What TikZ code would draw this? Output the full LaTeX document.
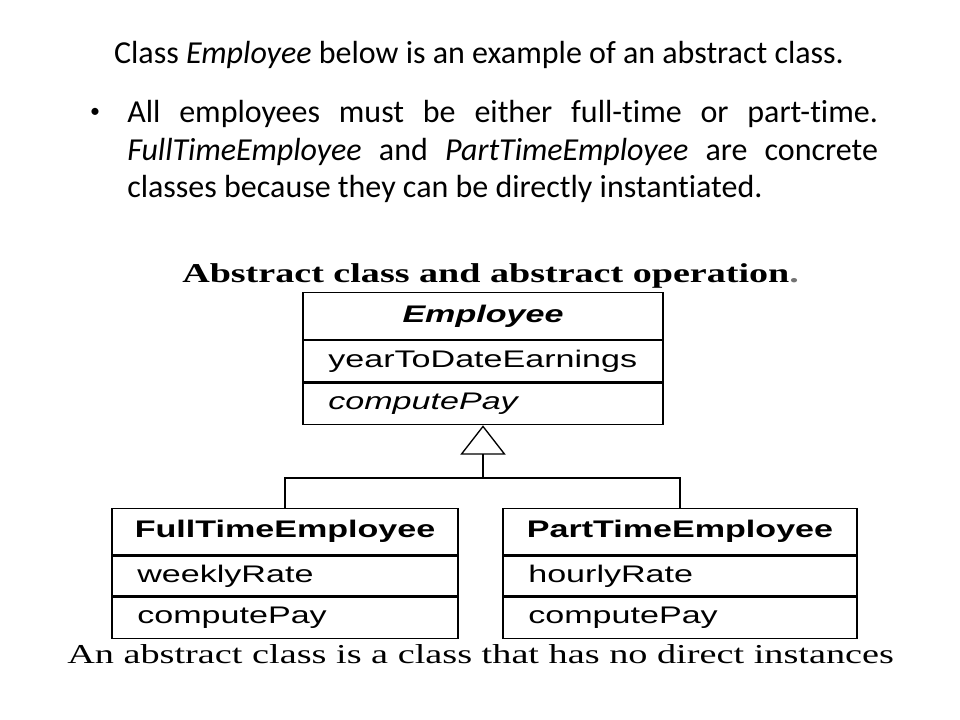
\documentclass[tikz,border=0pt]{standalone}
\usepackage{fontspec}
\setmainfont[Ligatures=NoCommon]{Carlito}
\newfontfamily\umlfont[FakeStretch=1.42]{Liberation Sans}
\newfontfamily\scanfont[FakeStretch=1.4]{Liberation Serif}
\usetikzlibrary{positioning,arrows.meta}

\tikzset{
  box/.style={draw, line width=1pt, inner sep=0pt},
  classname/.style={box, minimum width=#1, minimum height=35pt,
    font=\umlfont\bfseries\fontsize{18}{21}\selectfont},
  member/.style={box, inner xsep=19pt, text width=#1, minimum height=31pt,
    align=left, font=\umlfont\fontsize{18}{21}\selectfont},
}

\begin{document}
\begin{tikzpicture}[x=0.75pt, y=-0.75pt]
            \useasboundingbox (0,0) rectangle (960,720);

            % slide text
            \node[anchor=base, inner sep=0pt, font=\fontsize{24}{28}\selectfont] (title) at (479,64)
            {Class \textit{Employee} below is an example of an abstract class.};
            \node[inner sep=0pt, font=\fontsize{15}{18}\selectfont] (dot) at (95,113) {\textbullet};
            \node[anchor=base west, inner sep=0pt, text width=563pt, align=justify,
              font=\fontsize{24}{28}\selectfont] (bullet) at (127,123)
            {\hyphenpenalty=10000 All employees must be either full-time or part-time.\linebreak
             \textit{FullTimeEmployee} and \textit{PartTimeEmployee} are concrete\linebreak
             classes because they can be directly instantiated.};

            % scanned figure
            \node[anchor=base west, inner sep=0pt, font=\scanfont\bfseries\fontsize{20.4}{24}\selectfont] (heading) at (182,283)
            {Abstract class and abstract operation\textcolor{black!55}{.}};

            \node[classname=270pt] (emp) at (483,316) {\itshape Employee};
            \node[member=232pt, below=0pt of emp] (empattr) {yearToDateEarnings};
            \node[member=232pt, below=0pt of empattr] (empop) {\itshape computePay};

            \node[classname=259.5pt] (full) at (285,531.5) {FullTimeEmployee};
            \node[member=221.5pt, minimum height=29.5pt, below=0pt of full] (fullattr) {weeklyRate};
            \node[member=221.5pt, below=0pt of fullattr] (fullop) {computePay};

            \node[classname=265.5pt] (part) at (680,531.5) {PartTimeEmployee};
            \node[member=227.5pt, minimum height=29.5pt, below=0pt of part] (partattr) {hourlyRate};
            \node[member=227.5pt, below=0pt of partattr] (partop) {computePay};

            \coordinate (fork) at (483,478);
            \draw[line width=1pt] (full.north) |- (fork);
            \draw[line width=1pt] (part.north) |- (fork);
            \draw[line width=1pt, -{Triangle[open, width=34pt, length=22pt]}] (fork) -- (empop.south);

            \node[anchor=base west, inner sep=0pt, font=\scanfont\fontsize{20.5}{24}\selectfont] (caption) at (67,663)
            {An abstract class is a class that has no direct instances};

        \end{tikzpicture}
\end{document}
